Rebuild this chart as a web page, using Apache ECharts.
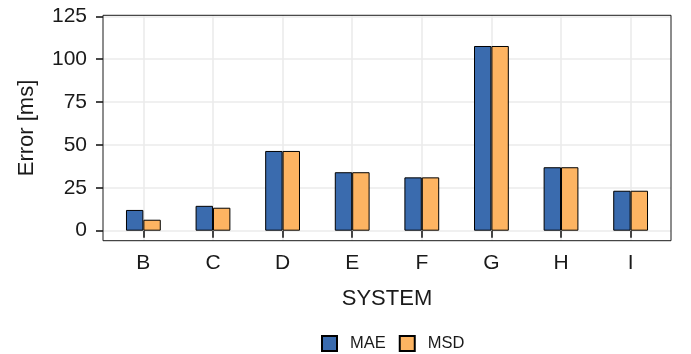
<!DOCTYPE html>
<html>
<head>
<meta charset="utf-8">
<script src="https://cdn.jsdelivr.net/npm/echarts@6/dist/echarts.min.js"></script>
<style>
  html, body { margin: 0; padding: 0; background: #fff; }
  #chart { width: 691px; height: 354px; }
</style>
</head>
<body>
<div id="chart"></div>
<script>
// Error per system, two metrics
const systems = ['B', 'C', 'D', 'E', 'F', 'G', 'H', 'I'];
const maeValues = [12.1, 14.5, 46.5, 34.1, 31.1, 107.7, 37.0, 23.3];
const msdValues = [6.4, 13.4, 46.5, 34.1, 31.1, 107.7, 37.0, 23.3];
const yTicks = [0, 25, 50, 75, 100, 125];

const FONT = '"Liberation Sans", Arial, Helvetica, sans-serif';
const INK = '#1a1a1a';
const GRID_LINE = '#ebebeb';

// panel (frame) geometry
const panel = { left: 103, right: 671, top: 15.3, bottom: 240.7 };
// value range of the panel: ticks span 0..125, padded below 0 and slightly above 125
const yMin = -5.83, yMax = 125.6;
const pxPerUnit = (panel.bottom - panel.top) / (yMax - yMin);
const yTickTop = panel.bottom - (yTicks[yTicks.length - 1] - yMin) * pxPerUnit;
const yTickBottom = panel.bottom - (yTicks[0] - yMin) * pxPerUnit;
// discrete axis padding: 0.58 of a category on each side
const pad = 0.58;
const band = (panel.right - panel.left) / (systems.length - 1 + 2 * pad);
const firstCenter = panel.left + pad * band;
const lastCenter = panel.right - pad * band;

const chart = echarts.init(document.getElementById('chart'), null, { renderer: 'canvas' });

chart.setOption({
  animation: false,
  backgroundColor: '#ffffff',
  textStyle: { fontFamily: FONT },
  grid: [
    // 0: bars and vertical grid lines, category centres at the ends
    { left: firstCenter, right: 691 - lastCenter, top: panel.top, bottom: 354 - panel.bottom, containLabel: false },
    // 1: horizontal grid lines and y tick labels
    { left: panel.left, right: 691 - panel.right, top: yTickTop, bottom: 354 - yTickBottom, containLabel: false },
    // 2: panel frame and axis titles
    { left: panel.left, right: 691 - panel.right, top: panel.top, bottom: 354 - panel.bottom,
      show: true, borderColor: INK, borderWidth: 1, backgroundColor: 'transparent', z: 5, containLabel: false }
  ],
  xAxis: [
    {
      gridIndex: 0, type: 'category', data: systems, boundaryGap: false,
      axisLine: { show: false },
      axisTick: { show: true, inside: false, length: 7, interval: 0, lineStyle: { color: INK, width: 1.6 } },
      axisLabel: { interval: 0, margin: 12, fontSize: 21, color: INK, fontFamily: FONT },
      splitLine: { show: true, interval: 0, lineStyle: { color: GRID_LINE, width: 1.6 } }
    },
    { gridIndex: 1, type: 'value', show: false, min: 0, max: 1 },
    {
      gridIndex: 2, type: 'value', min: 0, max: 1,
      axisLine: { show: false }, axisTick: { show: false }, axisLabel: { show: false }, splitLine: { show: false },
      name: 'SYSTEM', nameLocation: 'middle', nameGap: 47,
      nameTextStyle: { fontSize: 22, color: INK, fontFamily: FONT }
    }
  ],
  yAxis: [
    { gridIndex: 0, type: 'value', show: false, min: yMin, max: yMax },
    {
      gridIndex: 1, type: 'value', min: 0, max: 125, interval: 25,
      axisLine: { show: false },
      axisTick: { show: true, length: 7, lineStyle: { color: INK, width: 1.6 } },
      axisLabel: { margin: 16, fontSize: 21, color: INK, fontFamily: FONT,
        formatter: v => (yTicks.indexOf(v) >= 0 ? String(v) : '') },
      splitLine: { show: true, lineStyle: { color: GRID_LINE, width: 1.6 } }
    },
    {
      gridIndex: 2, type: 'value', min: 0, max: 1,
      axisLine: { show: false }, axisTick: { show: false }, axisLabel: { show: false }, splitLine: { show: false },
      name: 'Error [ms]', nameLocation: 'middle', nameRotate: 90, nameGap: 65,
      nameTextStyle: { fontSize: 22, color: INK, fontFamily: FONT }
    }
  ],
  legend: {
    left: 316, top: 330,
    itemWidth: 15, itemHeight: 15, itemGap: 13,
    icon: 'rect',
    textStyle: { fontSize: 16.5, color: INK, fontFamily: FONT, padding: [0, 0, 0, 8] },
    data: ['MAE', 'MSD']
  },
  series: [
    {
      name: 'MAE', type: 'bar', xAxisIndex: 0, yAxisIndex: 0, data: maeValues,
      barWidth: '25%', barGap: '0%', clip: false,
      itemStyle: { color: '#3a6bae', borderColor: '#000', borderWidth: 1 }
    },
    {
      name: 'MSD', type: 'bar', xAxisIndex: 0, yAxisIndex: 0, data: msdValues,
      barWidth: '25%', barGap: '0%', clip: false,
      itemStyle: { color: '#fdb462', borderColor: '#000', borderWidth: 1 }
    }
  ]
});
</script>
</body>
</html>
